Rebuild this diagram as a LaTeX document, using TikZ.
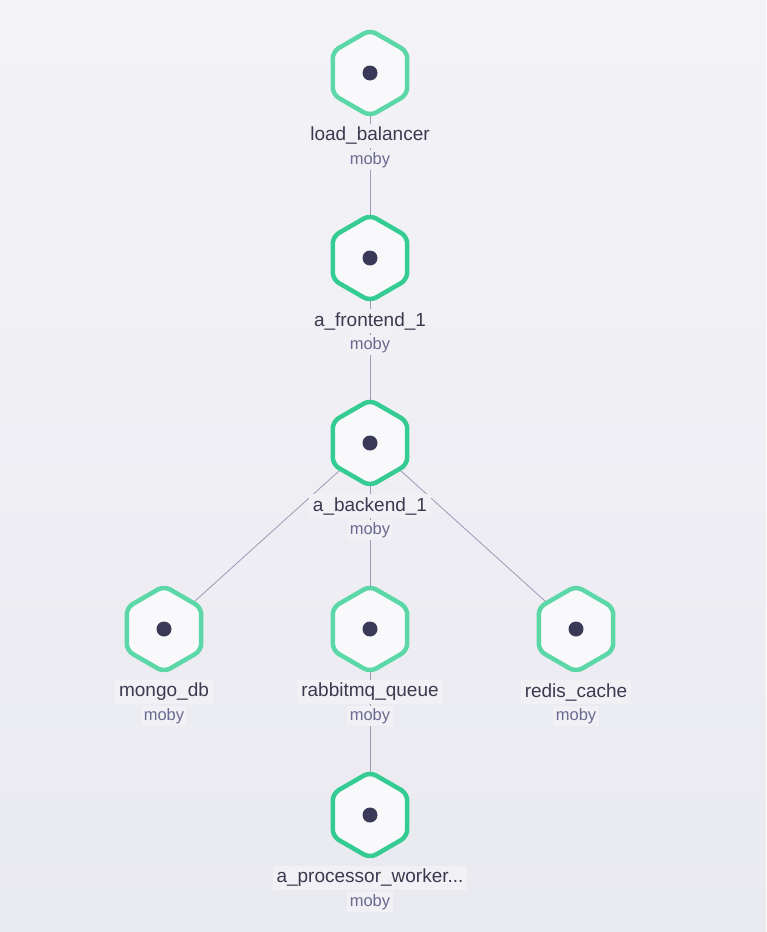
\documentclass[tikz,border=0pt]{standalone}
\usepackage{fontspec}
\setmainfont{Liberation Sans}
\usetikzlibrary{shapes.geometric}
\definecolor{bgtop}{HTML}{F3F3F7}
\definecolor{bgbot}{HTML}{E9E9F0}
\definecolor{greenA}{HTML}{34CC92}
\definecolor{greenB}{HTML}{5CD8A8}
\definecolor{hexfill}{HTML}{F9F9FB}
\definecolor{dotc}{HTML}{3A3957}
\definecolor{edgec}{HTML}{9C9AB9}
\definecolor{namec}{HTML}{3A3950}
\definecolor{subc}{HTML}{6A6990}
\definecolor{lblbg}{HTML}{F1F1F5}
\tikzset{
  hexnode/.style={regular polygon, regular polygon sides=6, regular polygon rotate=30,
    minimum size=86pt, inner sep=0pt, outer sep=0pt, fill=hexfill, line width=4.5pt,
    rounded corners=7pt, draw=#1},
  dotnode/.style={circle, fill=dotc, minimum size=15pt, inner sep=0pt},
  namelbl/.style={font=\fontsize{19}{22}\selectfont, text=namec, fill=lblbg, inner xsep=4pt, inner ysep=3.5pt},
  sublbl/.style={font=\fontsize{16.5}{18}\selectfont, text=subc, fill=lblbg, inner xsep=3pt, inner ysep=2.5pt},
  link/.style={draw=edgec, line width=0.8pt}
}
\begin{document}
\begin{tikzpicture}[x=1pt,y=-1pt]
\shade[top color=bgtop, bottom color=bgbot] (0,0) rectangle (766,932);
\useasboundingbox (0,0) rectangle (766,932);
% coordinates for node centers
\coordinate (lbC) at (370,73);
\coordinate (feC) at (370,258);
\coordinate (beC) at (370,443);
\coordinate (mgC) at (164,629);
\coordinate (rqC) at (370,629);
\coordinate (rcC) at (576,629);
\coordinate (pwC) at (370,815);
% edges
\draw[link] (lbC) -- (feC);
\draw[link] (feC) -- (beC);
\draw[link] (beC) -- (mgC);
\draw[link] (beC) -- (rqC);
\draw[link] (beC) -- (rcC);
\draw[link] (rqC) -- (pwC);
% hexagons
\node[hexnode=greenB] (lb) at (lbC) {};
\node[hexnode=greenA] (fe) at (feC) {};
\node[hexnode=greenA] (be) at (beC) {};
\node[hexnode=greenB] (mg) at (mgC) {};
\node[hexnode=greenB] (rq) at (rqC) {};
\node[hexnode=greenB] (rc) at (rcC) {};
\node[hexnode=greenA] (pw) at (pwC) {};
\foreach \n in {lb,fe,be,mg,rq,rc,pw}{\node[dotnode] (\n dot) at (\n) {};}
% labels
\node[namelbl] (lbn) at ([yshift=-63pt]lbC) {load\_balancer};
\node[sublbl] (lbs) at ([yshift=-87pt]lbC) {moby};
\node[namelbl] (fen) at ([yshift=-63pt]feC) {a\_frontend\_1};
\node[sublbl] (fes) at ([yshift=-87pt]feC) {moby};
\node[namelbl] (ben) at ([yshift=-63pt]beC) {a\_backend\_1};
\node[sublbl] (bes) at ([yshift=-87pt]beC) {moby};
\node[namelbl] (mgn) at ([yshift=-63pt]mgC) {mongo\_db};
\node[sublbl] (mgs) at ([yshift=-87pt]mgC) {moby};
\node[namelbl] (rqn) at ([yshift=-63pt]rqC) {rabbitmq\_queue};
\node[sublbl] (rqs) at ([yshift=-87pt]rqC) {moby};
\node[namelbl] (rcn) at ([yshift=-63pt]rcC) {redis\_cache};
\node[sublbl] (rcs) at ([yshift=-87pt]rcC) {moby};
\node[namelbl] (pwn) at ([yshift=-63pt]pwC) {a\_processor\_worker...};
\node[sublbl] (pws) at ([yshift=-87pt]pwC) {moby};
\end{tikzpicture}
\end{document}
